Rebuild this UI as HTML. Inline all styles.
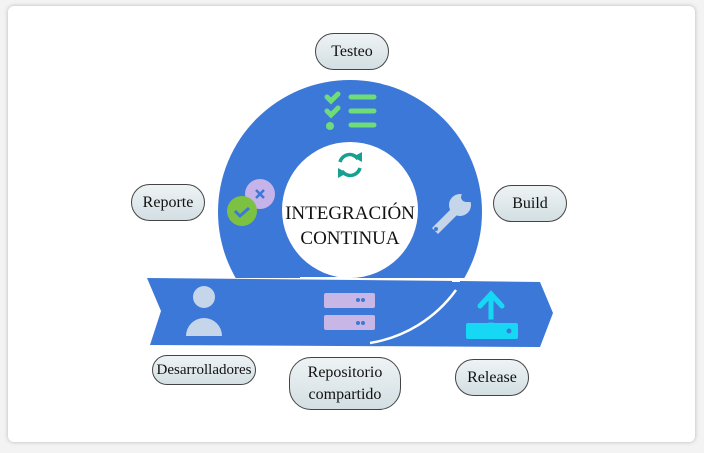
<!DOCTYPE html>
<html><head><meta charset="utf-8"><style>
html,body{margin:0;padding:0;background:#f3f3f3;}
body{width:704px;height:453px;position:relative;overflow:hidden;font-family:"Liberation Serif",serif;}
.card{position:absolute;left:8px;top:6px;width:687px;height:436px;background:#fff;border-radius:6px;box-shadow:0 0 4px rgba(0,0,0,0.25);}
.pill{position:absolute;box-sizing:border-box;border:1.5px solid #444;border-radius:22px;background:linear-gradient(#eef3f5,#d3dfe3);display:flex;align-items:center;justify-content:center;text-align:center;font-size:16px;color:#111;line-height:22px;}
</style></head><body>
<div class="card"></div>
<svg width="704" height="453" style="position:absolute;left:0;top:0">
<defs><clipPath id="top"><rect x="0" y="0" width="704" height="278"/></clipPath></defs>
<circle cx="350" cy="212" r="132" fill="#3c78d8" clip-path="url(#top)"/>
<polygon points="147,278 460,281 540,282 553,313 540,347 150,345 161,311" fill="#3c78d8"/>
<path d="M 300 278 L 350 278" stroke="#fff" stroke-width="2"/>
<path d="M 456 290 A 132 132 0 0 1 370 343" stroke="#fff" stroke-width="2.5" fill="none"/>
<path d="M 452 281 L 460 281" stroke="#fff" stroke-width="2"/>
<circle cx="350" cy="210" r="68" fill="#fff"/>
<g stroke="#6fdc7a" stroke-width="5" stroke-linecap="round" fill="none">
<path d="M327 97 l4 4 l7 -7"/><path d="M327 111 l4 4 l7 -7"/>
<path d="M351 97 h23"/><path d="M351 111 h23"/><path d="M351 125 h23"/>
</g>
<circle cx="330" cy="126" r="4" fill="#6fdc7a"/>
<g stroke="#16a091" stroke-width="3.5" fill="none">
<path d="M340 162 a10 10 0 0 1 18 -3"/><path d="M360 168 a10 10 0 0 1 -18 3"/>
</g>
<polygon points="353,157 362,152 362,162" fill="#16a091"/>
<polygon points="347,173 338,178 338,168" fill="#16a091"/>
<circle cx="260" cy="194" r="15" fill="#c6b3ea"/>
<path d="M256 190 l8 8 M264 190 l-8 8" stroke="#3c78d8" stroke-width="2.5"/>
<circle cx="242" cy="211" r="15" fill="#7cc142"/>
<path d="M235 211 l5 5 l9 -8" stroke="#3c78d8" stroke-width="3" fill="none"/>
<g fill="#c6d6ea"><path d="M432 228 L452 208 L458 214 L438 234 Z"/><circle cx="460" cy="205" r="11"/></g>
<path d="M462 192 L472 202 L466 202 L462 198 Z" fill="#3c78d8"/>
<circle cx="466" cy="197" r="5" fill="#3c78d8"/>
<circle cx="436" cy="229" r="2" fill="#3c78d8"/>
<circle cx="204" cy="297" r="11" fill="#c6d6ea"/>
<path d="M186 336 a18 18 0 0 1 36 0 Z" fill="#c6d6ea"/>
<rect x="324" y="293" width="51" height="15" rx="2" fill="#c8b6e6"/>
<rect x="324" y="315" width="51" height="15" rx="2" fill="#c8b6e6"/>
<g fill="#3c78d8"><circle cx="358" cy="300" r="2"/><circle cx="363" cy="300" r="2"/><circle cx="358" cy="323" r="2"/><circle cx="363" cy="323" r="2"/></g>
<rect x="466" y="323" width="52" height="16" rx="2" fill="#17d8f4"/>
<circle cx="509" cy="331" r="2.5" fill="#3c78d8"/>
<path d="M491 326 V296 M480 306 L491 294 L502 306" stroke="#17d8f4" stroke-width="5" fill="none" stroke-linecap="round"/>
<path d="M484 321 h14" stroke="#3c78d8" stroke-width="3"/>
<text x="350" y="219" text-anchor="middle" font-family="Liberation Serif" font-size="19" fill="#111">INTEGRACIÓN</text>
<text x="350" y="244" text-anchor="middle" font-family="Liberation Serif" font-size="19" fill="#111">CONTINUA</text>
</svg>
<div class="pill" style="left:315px;top:33px;width:74px;height:37px;">Testeo</div>
<div class="pill" style="left:131px;top:184px;width:74px;height:37px;">Reporte</div>
<div class="pill" style="left:493px;top:185px;width:74px;height:37px;">Build</div>
<div class="pill" style="left:152px;top:355px;width:104px;height:30px;font-size:15px;">Desarrolladores</div>
<div class="pill" style="left:289px;top:357px;width:112px;height:53px;">Repositorio<br>compartido</div>
<div class="pill" style="left:455px;top:359px;width:74px;height:37px;">Release</div>
</body></html>
